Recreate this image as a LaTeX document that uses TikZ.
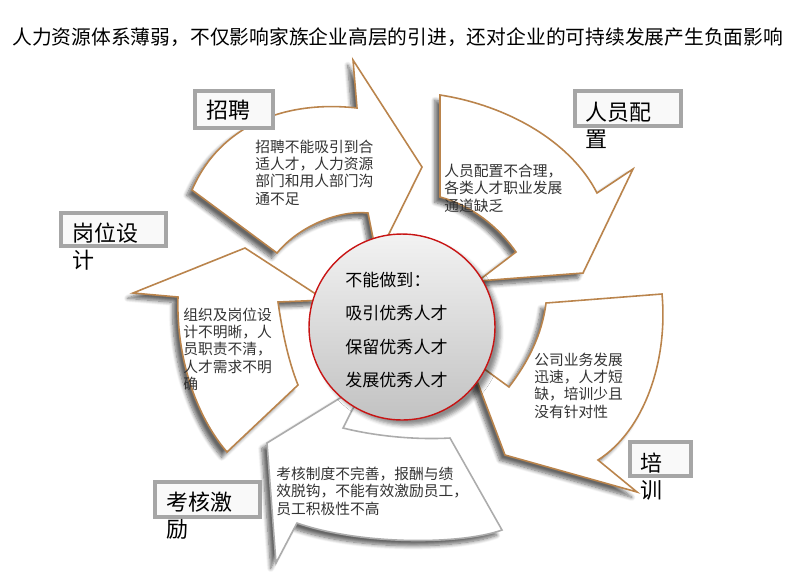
\documentclass[tikz,border=0pt]{standalone}
\usepackage{fontspec}
\setmainfont{Noto Sans CJK SC}
\usetikzlibrary{shadows.blur}
\definecolor{arrowbrown}{RGB}{186,132,76}
\definecolor{edgegray}{RGB}{172,172,172}
\definecolor{framegray}{RGB}{166,166,166}
\definecolor{ringred}{RGB}{200,20,20}
\tikzset{
  arrowpart/.style={fill=white,draw=arrowbrown,line width=0.9pt,line join=miter,
    blur shadow={shadow xshift=-3pt,shadow yshift=-3pt,shadow blur steps=8,shadow opacity=60}},
  labbox/.style={draw=framegray,line width=2.3pt,fill=gray!5,inner sep=0pt},
  labtext/.style={anchor=base west,align=left,inner sep=0pt,font=\fontsize{12.5}{15.3}\selectfont},
  bodytext/.style={anchor=base west,align=left,inner sep=0pt,text=black!80,font=\fontsize{8.4}{9.8}\selectfont}
}
\begin{document}
\begin{tikzpicture}[x=0.02cm,y=-0.02cm]
  \useasboundingbox (0,0) rectangle (800,576);
  \node[anchor=base west,inner sep=0pt,font=\fontsize{11.25}{13}\selectfont] (title) at (12,44.5)
    {人力资源体系薄弱，不仅影响家族企业高层的引进，还对企业的可持续发展产生负面影响};

  % arrows round the circle, clockwise
  \path[arrowpart,draw=edgegray] (267,443) -- (345,395) -- (356,404) -- (352,410) -- (343,428)
    .. controls (375,436) and (415,440) .. (450,438) -- (502,530)
    .. controls (460,545) and (360,545) .. (297,523) -- (276,563) -- cycle;
  \path[arrowpart] (133,293) -- (245,248) -- (325,300) -- (278,302)
    .. controls (282,330) and (288,360) .. (298,385) -- (227,452)
    .. controls (195,415) and (176,355) .. (178,297) -- cycle;
  \path[arrowpart] (192,190) .. controls (220,125) and (285,100) .. (357,108) -- (353,60) -- (422,167)
    -- (377,258) -- (368,213) .. controls (340,210) and (300,225) .. (277,253) -- cycle;
  \path[arrowpart] (440,95) .. controls (505,105) and (570,140) .. (597,193) -- (633,169) -- (583,273)
    -- (478,281) -- (516,252) .. controls (497,225) and (470,205) .. (440,197) -- cycle;
  \path[arrowpart] (546,303) -- (662,294) .. controls (668,360) and (645,430) .. (598,460) -- (637,492)
    -- (505,455) -- (468,357) -- (509,387) .. controls (528,362) and (542,335) .. (546,303) -- cycle;

  % centre (text nodes sit on their last baseline)
  \node[circle,draw=ringred,line width=0.8pt,top color=gray!10,bottom color=gray!48,minimum size=3.72cm,
    blur shadow={shadow xshift=3pt,shadow yshift=-3pt,shadow opacity=45}] (core) at (402,327) {};
  \node[anchor=base west,align=left,inner sep=0pt,font=\fontsize{9.7}{19}\selectfont] (coretext) at (345,386.7)
    {不能做到：\\吸引优秀人才\\保留优秀人才\\发展优秀人才};

  % label boxes
  \foreach \nm/\cx/\cy/\w/\h in {zp/234/109.5/1.56/0.74, ry/628/108.5/2.12/0.70, px/660.5/459/1.22/0.68,
    gw/113.5/229.5/2.10/0.66, kh/207.5/499.5/2.10/0.70}
    \node[labbox,minimum width=\w cm,minimum height=\h cm] (\nm box) at (\cx,\cy) {};
  \node[labtext] (zplab) at (206,118.4) {招聘};
  \node[labtext] (rylab) at (585,147.3) {人员配\\置};
  \node[labtext] (pxlab) at (640,498.3) {培\\训};
  \node[labtext] (gwlab) at (72,268.3) {岗位设\\计};
  \node[labtext] (khlab) at (166,537.3) {考核激\\励};

  \node[bodytext] (zptext) at (255,204.2) {招聘不能吸引到合\\适人才，人力资源\\部门和用人部门沟\\通不足};
  \node[bodytext] (rytext) at (444,211) {人员配置不合理，\\各类人才职业发展\\通道缺乏};
  \node[bodytext] (pxtext) at (534,417.2) {公司业务发展\\迅速，人才短\\缺，培训少且\\没有针对性};
  \node[bodytext] (gwtext) at (183,389.4) {组织及岗位设\\计不明晰，人\\员职责不清，\\人才需求不明\\确};
  \node[bodytext] (khtext) at (276,514) {考核制度不完善，报酬与绩\\效脱钩，不能有效激励员工，\\员工积极性不高};
\end{tikzpicture}
\end{document}
